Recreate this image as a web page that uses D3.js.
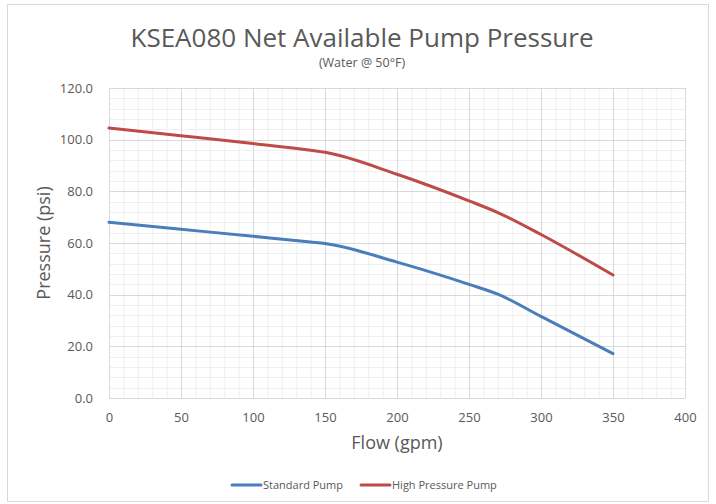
<!DOCTYPE html>
<html>
<head>
<meta charset="utf-8">
<script src="https://cdn.jsdelivr.net/npm/d3@7"></script>
<style>
  body { margin: 0; background: #fff; }
  text { font-family: "Open Sans", "Noto Sans", sans-serif; fill: #595959; }
</style>
</head>
<body>
<div id="chart"></div>
<script>
const flow = [0, 50, 100, 140, 150, 200, 250, 270, 300, 350];
const standardPump = [68.0, 65.3, 62.6, 60.4, 59.8, 52.6, 44.0, 40.2, 31.6, 17.2];
const highPressurePump = [104.5, 101.5, 98.5, 95.9, 95.1, 86.6, 76.3, 71.8, 63.3, 47.6];
const seriesNames = ["Standard Pump", "High Pressure Pump"];
const xTicks = [0, 50, 100, 150, 200, 250, 300, 350, 400];
const yTicks = [0, 20, 40, 60, 80, 100, 120];

const W = 716, H = 504;
const margin = { top: 88, right: 31, bottom: 106, left: 109 };
const width = W - margin.left - margin.right;
const height = H - margin.top - margin.bottom;
const colors = ["#4a7ebb", "#be4b48"];

const svg = d3.select("#chart").append("svg")
  .attr("width", W).attr("height", H);

// outer frame
svg.append("rect")
  .attr("x", 7.5).attr("y", 4.5)
  .attr("width", 701).attr("height", 497)
  .attr("fill", "none").attr("stroke", "#d9d9d9");

const g = svg.append("g")
  .attr("transform", `translate(${margin.left},${margin.top})`);

const X = d3.scaleLinear().domain([0, 400]).range([0, width]);
const Y = d3.scaleLinear().domain([0, 120]).range([height, 0]);

// minor grid
g.append("g").selectAll("line")
  .data(d3.range(0, 401, 10))
  .join("line")
  .attr("x1", d => X(d) + 0.5).attr("x2", d => X(d) + 0.5)
  .attr("y1", 0).attr("y2", height)
  .attr("stroke", "#efefef");
g.append("g").selectAll("line")
  .data(d3.range(0, 121, 4))
  .join("line")
  .attr("y1", d => Math.round(Y(d)) + 0.5).attr("y2", d => Math.round(Y(d)) + 0.5)
  .attr("x1", 0).attr("x2", width)
  .attr("stroke", "#efefef");

// major grid
g.append("g").selectAll("line")
  .data(xTicks)
  .join("line")
  .attr("x1", d => X(d) + 0.5).attr("x2", d => X(d) + 0.5)
  .attr("y1", 0).attr("y2", height)
  .attr("stroke", "#d9d9d9");
g.append("g").selectAll("line")
  .data(yTicks)
  .join("line")
  .attr("y1", d => Math.round(Y(d)) + 0.5).attr("y2", d => Math.round(Y(d)) + 0.5)
  .attr("x1", 0).attr("x2", width)
  .attr("stroke", "#d9d9d9");

// axes labels
const xAxis = g.append("g")
  .attr("transform", `translate(0,${height})`)
  .call(d3.axisBottom(X).tickValues(xTicks).tickSize(0).tickPadding(15));
const yAxis = g.append("g")
  .call(d3.axisLeft(Y).tickValues(yTicks).tickSize(0).tickPadding(16).tickFormat(d3.format(".1f")));
[xAxis, yAxis].forEach(a => {
  a.select(".domain").remove();
  a.selectAll("text")
    .style("font-size", "13px")
    .style("font-family", "'Open Sans', 'Noto Sans', sans-serif")
    .attr("fill", "#595959");
});

// lines
const series = [standardPump, highPressurePump];
const line = d3.line()
  .x((d, i) => X(flow[i]))
  .y(d => Y(d))
  .curve(d3.curveMonotoneX);
g.selectAll("path.series")
  .data(series)
  .join("path")
  .attr("class", "series")
  .attr("fill", "none")
  .attr("stroke", (d, i) => colors[i])
  .attr("stroke-width", 3)
  .attr("stroke-linecap", "round")
  .attr("d", line);

// titles
svg.append("text")
  .attr("x", 362).attr("y", 47)
  .attr("text-anchor", "middle")
  .style("font-size", "26px")
  .text("KSEA080 Net Available Pump Pressure");
svg.append("text")
  .attr("x", 362).attr("y", 67)
  .attr("text-anchor", "middle")
  .style("font-size", "12.5px")
  .text("(Water @ 50°F)");
svg.append("text")
  .attr("x", 397).attr("y", 449)
  .attr("text-anchor", "middle")
  .style("font-size", "18px")
  .text("Flow (gpm)");
svg.append("text")
  .attr("transform", `translate(50,${margin.top + height / 2}) rotate(-90)`)
  .attr("text-anchor", "middle")
  .style("font-size", "18px")
  .text("Pressure (psi)");

// legend
const legendX = [232, 361];
const legend = svg.append("g");
seriesNames.forEach((name, i) => {
  legend.append("line")
    .attr("x1", legendX[i]).attr("x2", legendX[i] + 29)
    .attr("y1", 485).attr("y2", 485)
    .attr("stroke", colors[i]).attr("stroke-width", 3)
    .attr("stroke-linecap", "round");
  legend.append("text")
    .attr("x", legendX[i] + 31).attr("y", 489)
    .style("font-size", "11px")
    .text(name);
});
</script>
</body>
</html>
